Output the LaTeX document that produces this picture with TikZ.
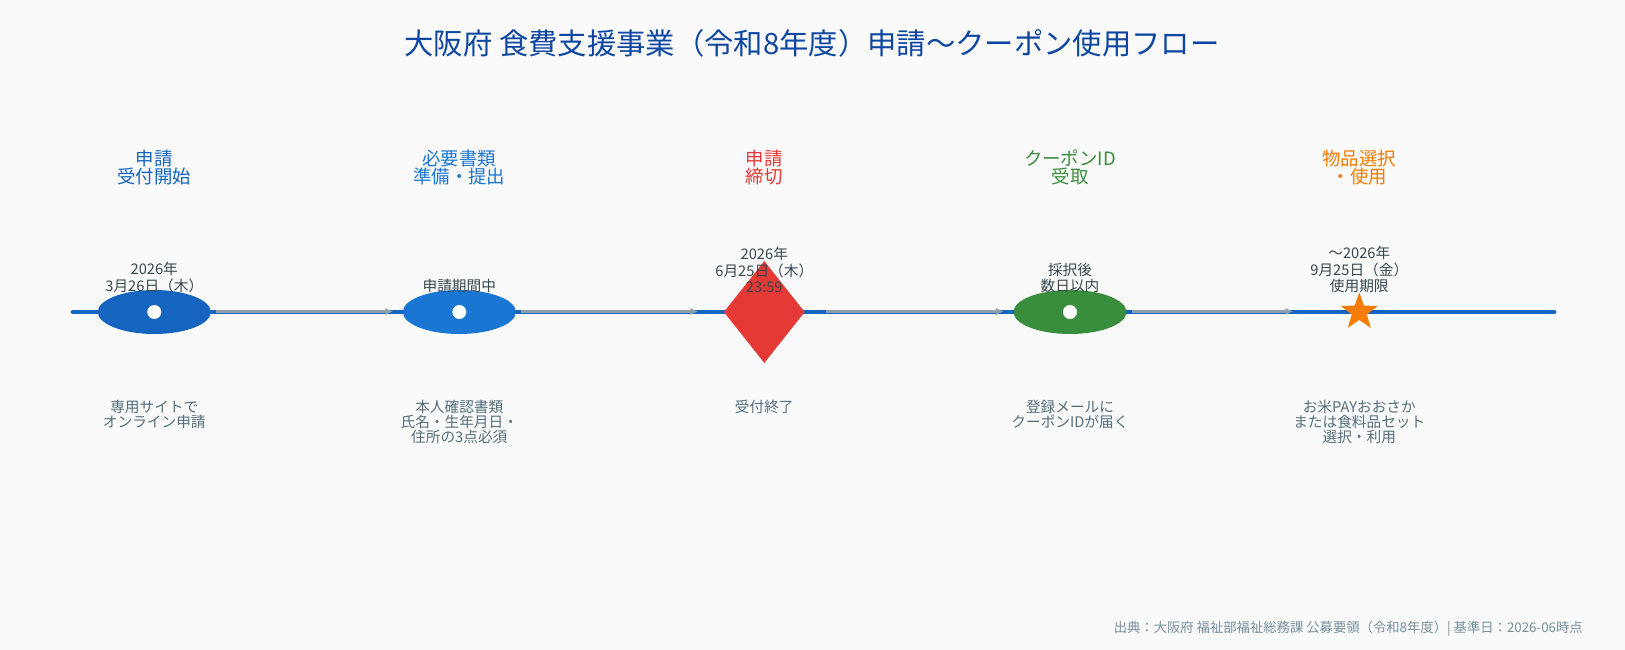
\documentclass[tikz,border=0pt]{standalone}
\usepackage{fontspec}
\setmainfont{Noto Sans CJK JP}
\usetikzlibrary{calc,arrows.meta,shapes.geometric}
\definecolor{bgcol}{HTML}{FAFAFA}
\definecolor{titlecol}{HTML}{0D47A1}
\definecolor{maincol}{HTML}{1565C0}
\definecolor{bluecol}{HTML}{1976D2}
\definecolor{redcol}{HTML}{E53935}
\definecolor{greencol}{HTML}{388E3C}
\definecolor{orangecol}{HTML}{F57C00}
\definecolor{flowcol}{HTML}{8D9FAA}
\definecolor{datecol}{HTML}{37474F}
\definecolor{notecol}{HTML}{546E7A}
\definecolor{footcol}{HTML}{78909C}

\begin{document}
\begin{tikzpicture}[>=Latex,x=0.75pt,y=-0.75pt,
    phase/.style={align=center,inner sep=0pt,font=\fontsize{13.8}{13.8}\selectfont},
    when/.style={anchor=south,align=center,inner sep=0pt,text=datecol,font=\fontsize{11}{12.3}\selectfont},
    note/.style={anchor=north,align=center,inner sep=0pt,text=notecol,font=\fontsize{11}{11.1}\selectfont},
    oval/.style={ellipse,minimum width=84.75pt,minimum height=33pt,inner sep=0pt},
    dot/.style={circle,fill=white,minimum size=10.5pt,inner sep=0pt},
    flow/.style={-{Latex[length=6pt,width=5.5pt]},line width=2.2pt,flowcol}]
  \fill[bgcol] (0,0) rectangle (1625,650);
  \useasboundingbox (0,0) rectangle (1625,650);
  % Title
  \node[text=titlecol,font=\fontsize{22}{24}\selectfont] (title) at (812,43.5)
    {大阪府 食費支援事業（令和8年度）申請～クーポン使用フロー};
  % Time line
  \coordinate (lineL) at (73,312);
  \coordinate (lineR) at (1554,312);
  \draw[maincol,line width=3.6pt,line cap=round] (lineL) -- (lineR);
  % Milestones
  \node[oval,fill=maincol] (start) at (154.3,312) {};
  \node[dot] (startdot) at (start) {};
  \node[oval,fill=bluecol] (docs) at (459.3,312) {};
  \node[dot] (docsdot) at (docs) {};
  \node[diamond,fill=redcol,minimum width=60.75pt,minimum height=76.5pt,inner sep=0pt] (close) at (764.3,312) {};
  \node[oval,fill=greencol] (coupon) at (1070,312) {};
  \node[dot] (coupondot) at (coupon) {};
  \node[star,star points=5,star point ratio=2.5,fill=orangecol,minimum size=29.5pt,inner sep=0pt] (use) at (1359.3,312) {};
  % Arrows between milestones
  \draw[flow] ($(start)+(62,-0.5)$) -- ($(docs)+(-66,-0.5)$);
  \draw[flow] ($(docs)+(62,-0.5)$) -- ($(close)+(-66,-0.5)$);
  \draw[flow] ($(close)+(62,-0.5)$) -- ($(coupon)+(-66,-0.5)$);
  \draw[flow] ($(coupon)+(62,-0.5)$) -- ($(use)+(-66,-0.5)$);
  % Phase names
  \node[phase,text=maincol] (startname) at (154.3,167.5) {申請\\受付開始};
  \node[phase,text=bluecol] (docsname) at (459.3,167.5) {必要書類\\準備・提出};
  \node[phase,text=redcol] (closename) at (764.3,167.5) {申請\\締切};
  \node[phase,text=greencol] (couponname) at (1070,167.5) {クーポンID\\受取};
  \node[phase,text=orangecol] (usename) at (1359.3,167.5) {物品選択\\・使用};
  % Dates above the line
  \node[when] (startwhen) at (154.3,293) {2026年\\3月26日（木）};
  \node[when] (docswhen) at (459.3,293) {申請期間中};
  \node[when] (closewhen) at (764.3,293) {2026年\\6月25日（木）\\23:59};
  \node[when] (couponwhen) at (1070,293) {採択後\\数日以内};
  \node[when] (usewhen) at (1359.3,293) {～2026年\\9月25日（金）\\使用期限};
  % Notes below the line
  \node[note] (startnote) at (154.3,400) {専用サイトで\\オンライン申請};
  \node[note] (docsnote) at (459.3,400) {本人確認書類\\氏名・生年月日・\\住所の3点必須};
  \node[note] (closenote) at (764.3,400) {受付終了};
  \node[note] (couponnote) at (1070,400) {登録メールに\\クーポンIDが届く};
  \node[note] (usenote) at (1359.3,400) {お米PAYおおさか\\または食料品セット\\選択・利用};
  % Source
  \node[anchor=east,inner sep=0pt,text=footcol,font=\fontsize{10}{11}\selectfont] (source) at (1583,628.5)
    {出典：大阪府 福祉部福祉総務課 公募要領（令和8年度）| 基準日：2026-06時点};
\end{tikzpicture}
\end{document}
